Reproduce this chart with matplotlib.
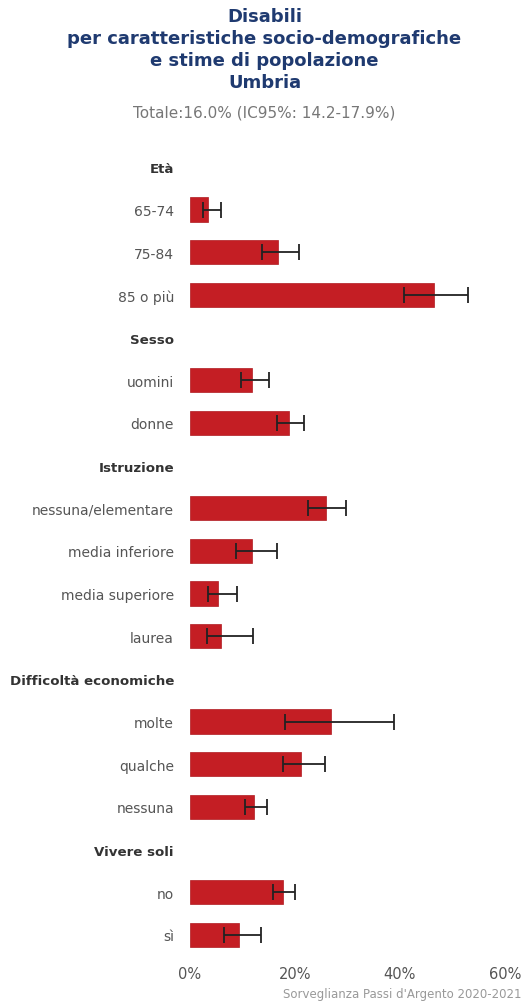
import matplotlib
matplotlib.use("Agg")
import matplotlib.pyplot as plt
import numpy as np

# gruppi e categorie
groups = ["Età", "Sesso", "Istruzione", "Difficoltà economiche", "Vivere soli"]
categories = [
    ["65-74", "75-84", "85 o più"],
    ["uomini", "donne"],
    ["nessuna/elementare", "media inferiore", "media superiore", "laurea"],
    ["molte", "qualche", "nessuna"],
    ["no", "sì"],
]
values = [
    [3.5, 16.8, 46.5],
    [11.9, 18.9],
    [25.9, 11.9, 5.3, 6.0],
    [26.9, 21.1, 12.3],
    [17.7, 9.3],
]
ci_low = [
    [2.4, 13.8, 40.8],
    [9.7, 16.5],
    [22.5, 8.7, 3.4, 3.2],
    [18.1, 17.8, 10.5],
    [15.9, 6.4],
]
ci_high = [
    [5.9, 20.8, 52.9],
    [15.0, 21.8],
    [29.8, 16.5, 9.0, 12.1],
    [38.9, 25.7, 14.7],
    [20.0, 13.5],
]
xticks = [0, 20, 40, 60]

RED = "#C41E24"
BLUE = "#1F3A70"
GREY = "#555555"

fig = plt.figure(figsize=(5.29, 10.03), dpi=100)
ax = fig.add_axes([0.359, 0.0479, 0.5955, 0.8026])

labels, bold = [], []
pos = 0
for g, cats, vals, lo, hi in zip(groups, categories, values, ci_low, ci_high):
    labels.append(g)
    bold.append(True)
    pos += 1
    for c, v, l, h in zip(cats, vals, lo, hi):
        ax.barh(pos, v, height=0.57, color=RED, edgecolor="#B01A20", linewidth=0.5)
        ax.errorbar(v, pos, xerr=[[v - l], [h - v]], fmt="none",
                    ecolor="#222222", elinewidth=1.3, capsize=6, capthick=1.3)
        labels.append(c)
        bold.append(False)
        pos += 1

ax.set_yticks(range(len(labels)))
ax.set_yticklabels(labels)
for t, b in zip(ax.get_yticklabels(), bold):
    if b:
        t.set_fontweight("bold")
        t.set_fontsize(9.6)
        t.set_color("#333333")
    else:
        t.set_fontsize(10)
        t.set_color(GREY)
ax.set_ylim(len(labels) - 1 + 0.445, -0.42)
ax.set_xlim(0, 60)
ax.set_xticks(xticks)
ax.set_xticklabels([f"{x}%" for x in xticks])
ax.tick_params(axis="y", length=0, pad=11.5)
ax.tick_params(axis="x", length=0, pad=9, labelsize=10.5, labelcolor=GREY)
for s in ax.spines.values():
    s.set_visible(False)

fig.text(0.5, 0.992, "Disabili\nper caratteristiche socio-demografiche\ne stime di popolazione\nUmbria",
         ha="center", va="top", fontsize=13, fontweight="bold", color=BLUE,
         linespacing=1.28)
fig.text(0.5, 0.887, "Totale:16.0% (IC95%: 14.2-17.9%)", ha="center", va="center",
         fontsize=11, color="#777777")
fig.text(0.985, 0.002, "Sorveglianza Passi d'Argento 2020-2021", ha="right", va="bottom",
         fontsize=8.5, color="#999999")

fig.savefig("out.png", dpi=100)
